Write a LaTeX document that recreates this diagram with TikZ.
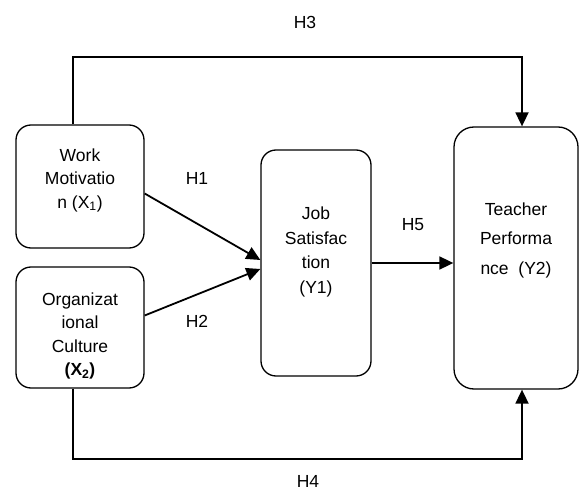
\documentclass[tikz,border=0pt]{standalone}
\usepackage{fontspec}
\setmainfont{Liberation Sans}
\usetikzlibrary{arrows.meta,positioning}
\tikzset{
  box/.style={draw, line width=1.3pt, rounded corners=15pt, inner sep=0pt},
  conn/.style={line width=1.8pt, -{Triangle[length=14pt,width=13pt]}},
  txt/.style={align=center, inner sep=0pt, font=\fontsize{17.5}{#1}\selectfont},
  txt/.default=23.5
}

\begin{document}
\begin{tikzpicture}[x=1pt,y=-1pt]
    \useasboundingbox (0,0) rectangle (579,492);

    % boxes
    \node[box, minimum width=128pt, minimum height=123pt] (x1) at (80,186.5) {};
    \node[box, minimum width=128pt, minimum height=121pt] (x2) at (80,327.5) {};
    \node[box, minimum width=110pt, minimum height=226pt] (y1) at (316,263) {};
    \node[box, rounded corners=20pt, minimum width=124pt, minimum height=262pt] (y2) at (516,258) {};

    % texts in the boxes
    \node[txt] (x1t) at (80,180) {Work\\Motivatio\\n (X\textsubscript{1})};
    \node[txt] (x2t) at (80,336) {Organizat\\ional\\Culture\\\textbf{(X\textsubscript{2})}};
    \node[txt=24.5] (y1t) at (316,252) {Job\\Satisfac\\tion\\(Y1)};
    \node[txt=29.5] (y2t) at (516,240) {Teacher\\Performa\\nce\ \ (Y2)};

    % helper corners for H3 and H4
    \coordinate (top) at (73,57);
    \coordinate (bot) at (73,459);

    % connectors
    \draw[conn] ([yshift=-7pt]x1.east) -- ([yshift=3pt]y1.west);
    \draw[conn] ([yshift=12pt]x2.east) -- ([yshift=-6pt]y1.west);
    \draw[conn] (y1.east) -- (y1.east -| y2.west);
    \draw[conn] (x1.north -| top) -- (top) -| ([xshift=6pt]y2.north);
    \draw[conn] (x2.south -| bot) -- (bot) -| ([xshift=6pt]y2.south);

    % hypothesis labels
    \node[txt] (h1) at (197,178) {H1};
    \node[txt] (h2) at (197,321) {H2};
    \node[txt] (h3) at (305,22) {H3};
    \node[txt] (h4) at (308,481) {H4};
    \node[txt] (h5) at (413,225) {H5};
\end{tikzpicture}
\end{document}
